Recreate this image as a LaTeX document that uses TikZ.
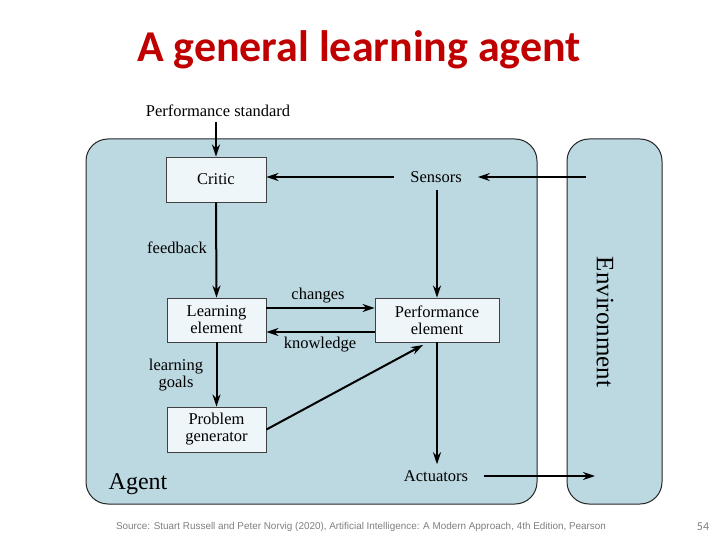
\documentclass[tikz,border=0pt]{standalone}
\usepackage{fontspec}
\setmainfont{Liberation Serif}
\newfontfamily\titlefont{Carlito}
\newfontfamily\srcfont{Liberation Sans}
\usetikzlibrary{arrows.meta}
\definecolor{agentblue}{HTML}{BCD8E1}
\definecolor{boxfill}{HTML}{EEF6F9}
\definecolor{titlered}{HTML}{C00000}
\definecolor{srcgray}{HTML}{7F7F7F}
\begin{document}
\begin{tikzpicture}[x=1pt,y=-1pt,
  region/.style={draw=black!85,line width=1pt,fill=agentblue,rounded corners=22pt},
  compbox/.style={draw=black!75,line width=0.9pt,fill=boxfill,align=center,inner sep=0pt,
    font=\fontsize{16.5}{17}\selectfont},
  lbl/.style={font=\fontsize{16.5}{17}\selectfont,align=center,inner sep=0pt},
  io/.style={font=\fontsize{16.5}{17}\selectfont,inner xsep=16pt,inner ysep=6pt},
  flow/.style={line width=2pt,-{Stealth[length=12pt,width=8pt]}},
  plain/.style={line width=2pt}]
\useasboundingbox (0,0) rectangle (720,540);
\fill[white] (0,0) rectangle (720,540);
% title
\node[font=\titlefont\bfseries\fontsize{44}{48}\selectfont,text=titlered] (title) at (359,50) {A general learning agent};
% regions
\draw[region] (86,139) rectangle (537,504);
\draw[region] (567,139) rectangle (662,504);
% components
\node[compbox,minimum width=100pt,minimum height=45pt] (critic) at (216,179.5) {Critic};
\node[compbox,minimum width=99pt,minimum height=44pt] (learn) at (216.5,320) {Learning\\element};
\node[compbox,minimum width=124pt,minimum height=44pt] (perf) at (437,320) {Performance\\element};
\node[compbox,minimum width=99pt,minimum height=45pt] (prob) at (216.5,429.5) {Problem\\generator};
% io labels
\node[io] (sensors) at (436,177) {Sensors};
\node[io] (act) at (436,476) {Actuators};
\node[lbl] (ps) at (218,111) {Performance standard};
\node[lbl] (fb) at (177,248) {feedback};
\node[lbl] (ch) at (318,296) {changes};
\node[lbl] (kn) at (320,345) {knowledge};
\node[lbl] (lg) at (176,375) {learning\\goals};
\node[font=\fontsize{24}{26}\selectfont,inner sep=0pt] (agent) at (138,484) {Agent};
\node[font=\fontsize{25}{27}\selectfont,rotate=-90,inner sep=0pt] (env) at (605,322) {Environment};
% free ends
\coordinate (envin) at (586,177);
\coordinate (envout) at (595,476);
\coordinate (pe) at (423,345);
% connectors
\draw[flow] ([yshift=-5pt]ps.south -| critic.north) -- (critic.north);
\draw[flow] (envin) -- (sensors.east);
\draw[flow] (sensors.west) -- (sensors.west -| critic.east);
\draw[flow] (sensors.south -| perf.north) ++(0,1) -- (perf.north);
\draw[flow] (critic.south) -- (learn.north);
\draw[flow] ([yshift=12pt]learn.east) -- ([yshift=12pt]perf.west);
\draw[flow] ([yshift=-12pt]perf.west) -- ([yshift=-12pt]learn.east);
\draw[flow] (learn.south) -- (prob.north);
\draw[flow] (prob.east) -- (pe);
\draw[flow] (perf.south) -- (act.north -| perf.south);
\draw[flow] (act.east) -- (envout);
% footer
\node[font=\srcfont\fontsize{9.9}{11}\selectfont,text=srcgray] (src) at (361,527) {Source: Stuart Russell and Peter Norvig (2020), Artificial Intelligence: A Modern Approach, 4th Edition, Pearson};
\node[font=\titlefont\fontsize{12}{14}\selectfont,text=srcgray] (pg) at (703,527) {54};
\end{tikzpicture}
\end{document}
